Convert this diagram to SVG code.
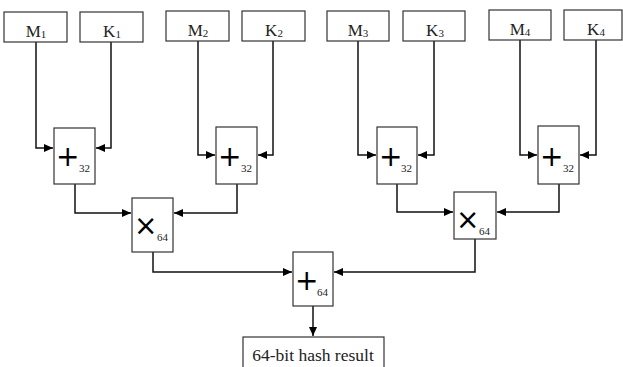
<svg xmlns="http://www.w3.org/2000/svg" width="623" height="367" viewBox="0 0 623 367">
<style>
.box{fill:#fff;stroke:#333;stroke-width:1.2}
.lbl{font-family:"Liberation Serif","Times New Roman",serif;font-size:17px;fill:#222;text-anchor:middle}
.sub{font-size:11px}
.op{font-family:"DejaVu Sans",sans-serif;font-size:28px;fill:#000}
.opsub{font-family:"Liberation Serif",serif;font-size:11px;fill:#222}
.con path{fill:none;stroke:#111;stroke-width:1.5;marker-end:url(#ah)}
</style>
<defs>
<marker id="ah" markerUnits="userSpaceOnUse" markerWidth="10" markerHeight="10" refX="9" refY="4" orient="auto">
<path d="M0,0 L9,4 L0,8 Z" fill="#000"/>
</marker>
</defs>
<rect width="623" height="367" fill="#fff"/>
<g class="con">
<path d="M36,42 V148 H53"/>
<path d="M111,42 V148 H96"/>
<path d="M198,41 V155 H215"/>
<path d="M273,41 V155 H258"/>
<path d="M358,41 V155 H376"/>
<path d="M434,41 V155 H418"/>
<path d="M520,40 V155 H537"/>
<path d="M596,40 V155 H580"/>
<path d="M75,184 V213 H131"/>
<path d="M237,184 V213 H174"/>
<path d="M397,184 V212 H453"/>
<path d="M559,184 V212 H497"/>
<path d="M153,252 V272 H292"/>
<path d="M475,239 V272 H334"/>
<path d="M313,306 V336"/>
</g>
<g id="M1"><rect class="box" x="4" y="12" width="63" height="30"/><text class="lbl" x="36" y="37">M<tspan class="sub" dy="1">1</tspan></text></g>
<g id="K1"><rect class="box" x="80" y="12" width="63" height="30"/><text class="lbl" x="112" y="37">K<tspan class="sub" dy="1">1</tspan></text></g>
<g id="M2"><rect class="box" x="166" y="11" width="63" height="30"/><text class="lbl" x="198" y="36">M<tspan class="sub" dy="1">2</tspan></text></g>
<g id="K2"><rect class="box" x="242" y="11" width="63" height="30"/><text class="lbl" x="274" y="36">K<tspan class="sub" dy="1">2</tspan></text></g>
<g id="M3"><rect class="box" x="327" y="11" width="62" height="30"/><text class="lbl" x="358" y="36">M<tspan class="sub" dy="1">3</tspan></text></g>
<g id="K3"><rect class="box" x="403" y="11" width="62" height="30"/><text class="lbl" x="435" y="36">K<tspan class="sub" dy="1">3</tspan></text></g>
<g id="M4"><rect class="box" x="489" y="10" width="62" height="30"/><text class="lbl" x="520" y="35">M<tspan class="sub" dy="1">4</tspan></text></g>
<g id="K4"><rect class="box" x="564" y="10" width="58" height="30"/><text class="lbl" x="596" y="35">K<tspan class="sub" dy="1">4</tspan></text></g>
<g id="A1"><rect class="box" x="54" y="128" width="41" height="56"/><text class="op" x="56" y="166">+</text><text class="opsub" x="79" y="172">32</text></g>
<g id="A2"><rect class="box" x="216" y="127" width="41" height="57"/><text class="op" x="218" y="166">+</text><text class="opsub" x="241" y="172">32</text></g>
<g id="A3"><rect class="box" x="377" y="127" width="40" height="57"/><text class="op" x="379" y="166">+</text><text class="opsub" x="401" y="172">32</text></g>
<g id="A4"><rect class="box" x="538" y="126" width="41" height="58"/><text class="op" x="540" y="166">+</text><text class="opsub" x="563" y="172">32</text></g>
<g id="X1"><rect class="box" x="132" y="198" width="41" height="54"/><text class="op" x="134" y="235">×</text><text class="opsub" x="157" y="241">64</text></g>
<g id="X2"><rect class="box" x="454" y="192" width="42" height="47"/><text class="op" x="456" y="229">×</text><text class="opsub" x="479" y="235">64</text></g>
<g id="F"><rect class="box" x="293" y="252" width="40" height="54"/><text class="op" x="295" y="290">+</text><text class="opsub" x="317" y="296">64</text></g>
<g id="R"><rect class="box" x="243" y="337" width="141" height="32"/><text class="lbl" x="313" y="361" style="font-size:17.5px">64-bit hash result</text></g>
</svg>
